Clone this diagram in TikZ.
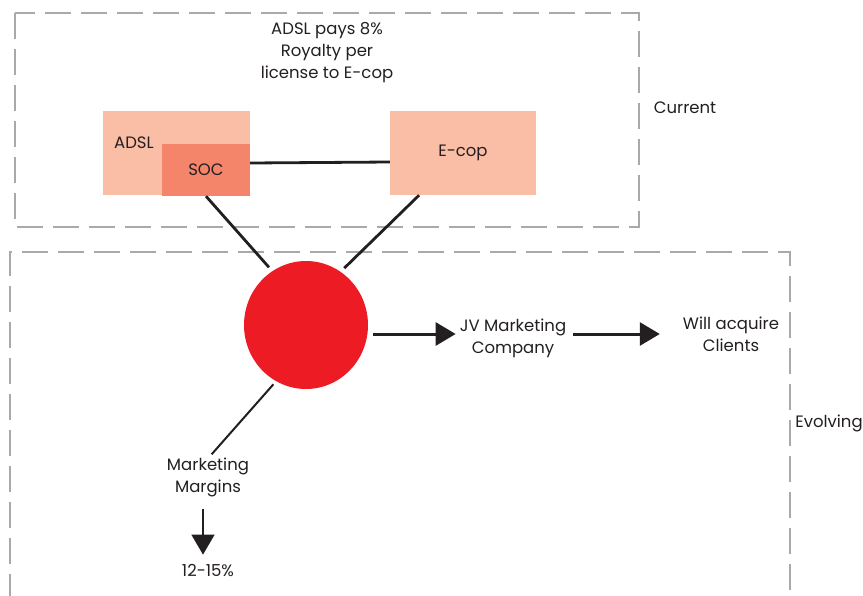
\documentclass[tikz,border=0pt]{standalone}
\usepackage{fontspec}
\setmainfont{Poppins}
\usepackage{xcolor}
\definecolor{framegray}{RGB}{167, 169, 172}
\definecolor{peach}{RGB}{249, 190, 165}
\definecolor{coral}{RGB}{244, 133, 106}
\definecolor{hubred}{RGB}{237, 28, 36}
\definecolor{ink}{RGB}{35, 31, 32}
\usetikzlibrary{shapes.geometric, arrows.meta, positioning, calc}

\begin{document}
\begin{tikzpicture}[
    x=1pt, y=-1pt,
    frame/.style={draw=framegray, line width=2.8pt, dash pattern=on 26pt off 10pt},
    box/.style={rectangle, fill=peach, inner sep=0pt, font=\fontsize{16.5}{22}\selectfont, text=ink},
    inner/.style={rectangle, fill=coral, inner sep=0pt, font=\fontsize{16.5}{22}\selectfont, text=ink},
    lbl/.style={inner sep=0pt, align=center, font=\fontsize{16.5}{22}\selectfont, text=ink},
    conn/.style={draw=ink, line width=2.8pt},
    thin/.style={draw=ink, line width=2pt},
    bigarrow/.style={draw=ink, line width=3pt, -{Triangle[length=20pt, width=23pt]}},
    downarrow/.style={draw=ink, line width=1.5pt, -{Triangle[length=20pt, width=23pt]}}
]
    \useasboundingbox (0,0) rectangle (863,595);

    % frames
    \draw[frame] (15,13) rectangle (639,227);
    \draw[frame] (10,600) -- (10,252) -- (790,252) -- (790,600);
    \node[lbl] (current) at (685,108) {Current};
    \node[lbl] (evolving) at (829,423) {Evolving};

    % current setup
    \node[lbl] (royalty) at (327,53) {ADSL pays 8\%\\Royalty per\\license to E-cop};
    \node[box, minimum width=147pt, minimum height=84pt] (adsl) at (176.5,153) {};
    \node[lbl] (adsltxt) at (134,143) {ADSL};
    \node[inner, minimum width=88pt, minimum height=52pt] (soc) at (206,170) {SOC};
    \node[box, minimum width=146pt, minimum height=84pt] (ecop) at (463,153) {\raisebox{-3pt}{E-cop}};

    % evolving setup
    \node[ellipse, fill=hubred, minimum width=124pt, minimum height=128pt, inner sep=0pt] (hub) at (306,325) {};
    \node[lbl] (jv) at (513,338) {JV Marketing\\Company};
    \node[lbl] (clients) at (731,334) {Will acquire\\Clients};
    \node[lbl] (margins) at (208,477) {Marketing\\Margins};
    \node[lbl] (pct) at (208,571) {12-15\%};

    % connectors
    \draw[conn] ([yshift=7pt]soc.east) -- ([yshift=-9pt]ecop.west);
    \draw[conn, shorten >=5pt] (soc.south) -- (hub.122);
    \draw[conn, shorten >=5pt] ($(ecop.south west)!0.2!(ecop.south east)$) -- (hub.57);
    \draw[bigarrow, shorten <=5pt, shorten >=4pt] ([yshift=-9pt]hub.east) -- ([yshift=-9pt]hub.east -| jv.west);
    \draw[bigarrow, shorten <=7pt, shorten >=23pt] ([yshift=4pt]jv.east) -- ([yshift=4pt]jv.east -| clients.west);
    \draw[thin, shorten <=4pt, shorten >=4pt] (hub.-118) -- ([xshift=1pt]margins.north);
    \draw[downarrow, shorten <=12pt, shorten >=10pt] ([xshift=-5pt]margins.south) -- ([xshift=-5pt]margins.south |- pct.north);
\end{tikzpicture}
\end{document}
